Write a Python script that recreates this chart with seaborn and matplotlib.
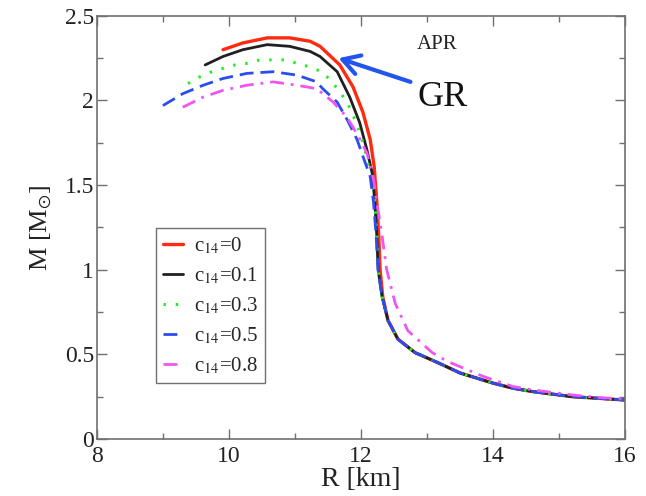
# mass-radius curves, APR EoS, for several c14 values
import numpy as np
import pandas as pd
import matplotlib
matplotlib.use('Agg')
import matplotlib.pyplot as plt
import seaborn as sns

# values (R in km, M in solar masses)
r_c0 = [9.91, 10.21, 10.58, 10.92, 11.23, 11.38, 11.68, 11.88, 12.03, 12.14, 12.20,
        12.24, 12.27, 12.29, 12.33, 12.41, 12.56, 12.82, 13.17, 13.5, 14.0, 14.3,
        14.6, 15.2, 15.6, 16.0]
m_c0 = [2.30, 2.34, 2.37, 2.37, 2.35, 2.32, 2.21, 2.08, 1.93, 1.77, 1.61,
        1.40, 1.20, 1.00, 0.84, 0.70, 0.59, 0.51, 0.45, 0.39, 0.33, 0.30,
        0.28, 0.25, 0.24, 0.23]

r_c01 = [9.64, 9.91, 10.21, 10.58, 10.92, 11.23, 11.38, 11.64, 11.83, 11.98, 12.09,
         12.17, 12.21, 12.24, 12.26, 12.32, 12.41, 12.56, 12.82, 13.17, 13.5, 14.0,
         14.3, 14.6, 15.2, 15.6, 16.0]
m_c01 = [2.21, 2.26, 2.30, 2.33, 2.32, 2.29, 2.26, 2.17, 2.02, 1.87, 1.71,
         1.57, 1.40, 1.20, 1.00, 0.84, 0.70, 0.59, 0.51, 0.45, 0.39, 0.33,
         0.30, 0.28, 0.25, 0.24, 0.23]

r_c03 = [9.38, 9.56, 9.74, 9.91, 10.09, 10.29, 10.47, 10.67, 10.85, 11.03, 11.21,
         11.41, 11.56, 11.68, 11.79, 11.86, 11.94, 12.00, 12.06, 12.11, 12.17,
         12.21, 12.24, 12.26, 12.32, 12.41, 12.56, 12.82, 13.17, 13.5, 14.0,
         14.3, 14.6, 15.2, 15.6, 16.0]
m_c03 = [2.10, 2.14, 2.17, 2.19, 2.21, 2.22, 2.24, 2.24, 2.24, 2.22, 2.20,
         2.17, 2.11, 2.05, 1.99, 1.93, 1.86, 1.79, 1.71, 1.62, 1.53,
         1.40, 1.20, 1.00, 0.84, 0.70, 0.59, 0.51, 0.45, 0.39, 0.33,
         0.30, 0.28, 0.25, 0.24, 0.23]

r_c05 = [9.00, 9.30, 9.61, 9.91, 10.27, 10.67, 11.03, 11.33, 11.42, 11.64, 11.80,
         11.94, 12.03, 12.14, 12.19, 12.23, 12.26, 12.32, 12.41, 12.56, 12.82,
         13.17, 13.5, 14.0, 14.3, 14.6, 15.2, 15.6, 16.0]
m_c05 = [1.97, 2.04, 2.09, 2.13, 2.16, 2.17, 2.15, 2.11, 2.07, 1.99, 1.88,
         1.77, 1.67, 1.55, 1.40, 1.20, 1.00, 0.84, 0.70, 0.59, 0.51,
         0.45, 0.39, 0.33, 0.30, 0.28, 0.25, 0.24, 0.23]

r_c08 = [9.30, 9.61, 9.91, 10.27, 10.67, 11.03, 11.33, 11.58, 11.79, 11.96, 12.09,
         12.18, 12.24, 12.32, 12.39, 12.52, 12.71, 13.08, 13.30, 13.85, 14.3,
         14.6, 15.2, 15.6, 16.0]
m_c08 = [1.96, 2.02, 2.06, 2.09, 2.11, 2.09, 2.07, 1.99, 1.90, 1.79, 1.69,
         1.56, 1.40, 1.20, 1.00, 0.80, 0.64, 0.51, 0.46, 0.37, 0.31,
         0.29, 0.26, 0.245, 0.235]

labels = ['c$_{14}$=0', 'c$_{14}$=0.1', 'c$_{14}$=0.3', 'c$_{14}$=0.5', 'c$_{14}$=0.8']

sns.set_style('ticks')
plt.rcParams['font.family'] = ['Liberation Serif', 'DejaVu Serif']
plt.rcParams['mathtext.fontset'] = 'stix'

fig = plt.figure(figsize=(6.46, 4.96), dpi=100)
ax = fig.add_axes([0.150, 0.115, 0.8175, 0.853])

curves = [(r_c0, m_c0, '#ff2a10', '-', 2.4),
          (r_c01, m_c01, '#202020', '-', 2.0),
          (r_c03, m_c03, '#22ee22', (0, (0.8, 3.2)), 2.2),
          (r_c05, m_c05, '#2b4cf0', (0, (5, 2.5)), 2.0),
          (r_c08, m_c08, '#f055f0', (0, (5, 2.5, 1, 2.5)), 2.0)]

for (r, m, col, ls, lw), lab in zip(curves, labels):
    df = pd.DataFrame({'R': r, 'M': m})
    sns.lineplot(data=df, x='R', y='M', sort=False, estimator=None, ax=ax,
                 color=col, linestyle=ls, linewidth=lw, label=lab)

ax.set_xlim(8, 16)
ax.set_ylim(0, 2.5)
ax.set_xticks([8, 10, 12, 14, 16])
ax.set_xticks([9, 11, 13, 15], minor=True)
ax.set_yticks([0, 0.5, 1, 1.5, 2, 2.5])
ax.set_yticklabels(['0', '0.5', '1', '1.5', '2', '2.5'])
ax.set_yticks(np.arange(0.25, 2.5, 0.5), minor=True)
ax.tick_params(which='both', direction='in', top=True, right=True,
               colors='#707070', labelcolor='#222222', labelsize=17)
ax.tick_params(axis='y', pad=2)
ax.tick_params(axis='x', pad=5)
ax.tick_params(which='major', length=7, width=1)
ax.tick_params(which='minor', length=4, width=1)
for s in ax.spines.values():
    s.set_color('#707070')
    s.set_linewidth(1.2)

ax.set_xlabel('R [km]', fontsize=20, color='#222222', labelpad=0)
ax.set_ylabel(r'M [M$_{\odot}$]', fontsize=19, color='#222222', labelpad=8)

ax.text(13.15, 2.33, 'APR', fontsize=15, ha='center', va='center', color='#222222')
ax.text(13.23, 2.02, 'GR', fontsize=26, ha='center', va='center', color='#111111')
ax.annotate('', xy=(11.66, 2.25), xytext=(12.75, 2.11),
            arrowprops=dict(arrowstyle='->,head_length=0.6,head_width=0.35',
                            color='#2255ee', lw=3, mutation_scale=20,
                            shrinkA=0, shrinkB=0))

leg = ax.legend(loc='upper left', bbox_to_anchor=(0.112, 0.499), fontsize=15,
                handlelength=0.95, handletextpad=0.5, labelspacing=0.45,
                borderpad=0.35, borderaxespad=0, fancybox=False, framealpha=1)
leg.get_frame().set_edgecolor('#707070')
leg.get_frame().set_linewidth(1.0)

fig.savefig('out.png', dpi=100)
